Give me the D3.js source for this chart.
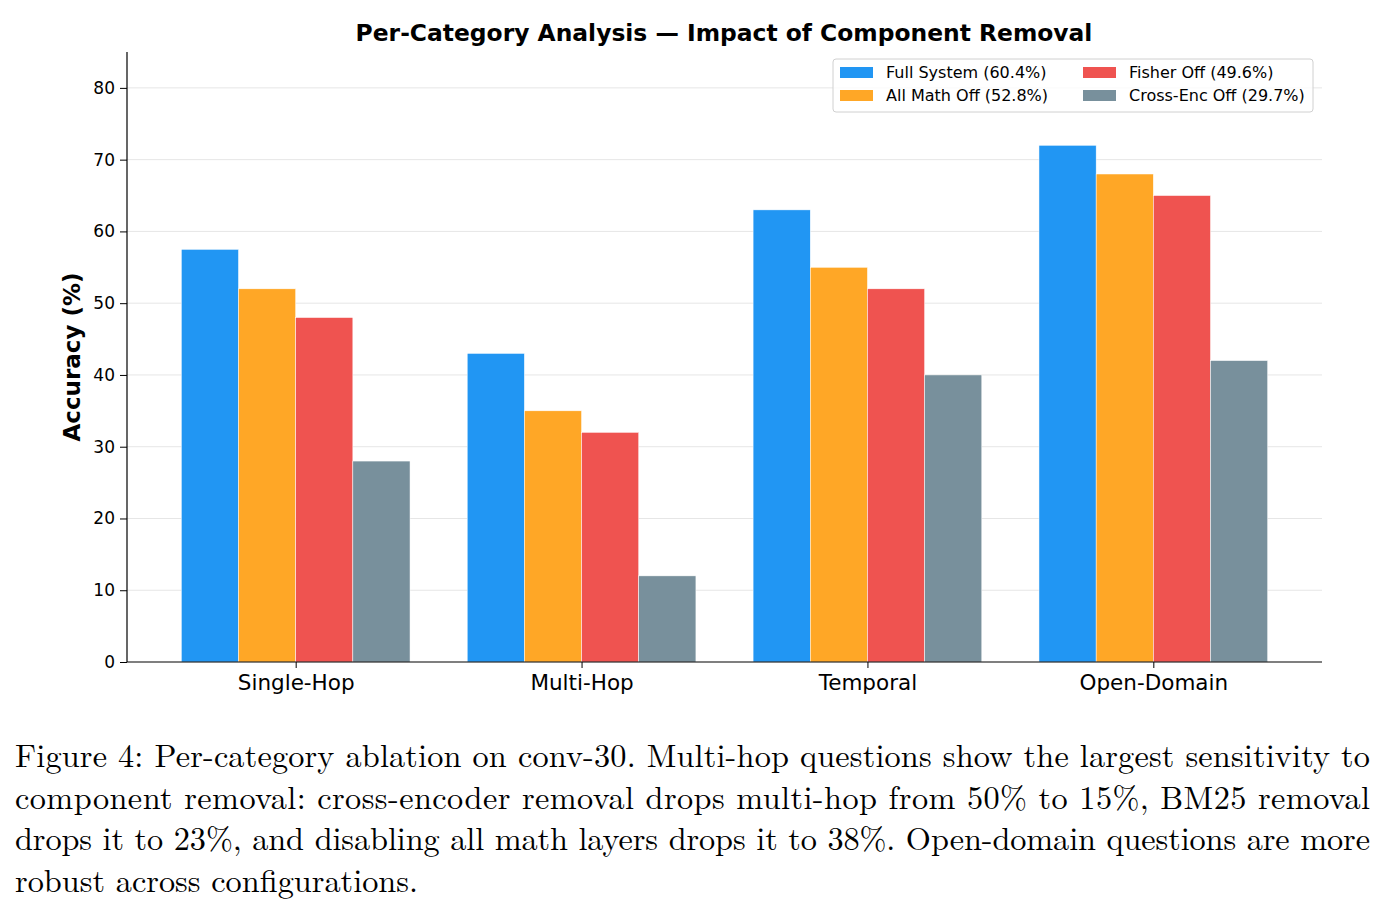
<!doctype html>
<html lang="en">
<head>
<meta charset="utf-8">
<title>Per-Category Analysis</title>
<script src="https://d3js.org/d3.v7.min.js"></script>
<style>
  body { margin: 0; background: #fff; }
  svg text { font-family: "DejaVu Sans", sans-serif; }
  .caption { font-family: "Latin Modern Roman", "CMU Serif", "DejaVu Serif", serif; font-size: 32.3px; fill: #000; }
  .grid line { stroke: #e6e6e6; stroke-width: 1; }
</style>
</head>
<body>
<svg id="chart" width="1385" height="911"></svg>
<script>
// categories and series
const categories = ["Single-Hop", "Multi-Hop", "Temporal", "Open-Domain"];
const seriesNames = ["Full System (60.4%)", "All Math Off (52.8%)", "Fisher Off (49.6%)", "Cross-Enc Off (29.7%)"];
const fullSystem = [57.5, 43, 63, 72];
const allMathOff = [52, 35, 55, 68];
const fisherOff = [48, 32, 52, 65];
const crossEncOff = [28, 12, 40, 42];
const yTicks = [0, 10, 20, 30, 40, 50, 60, 70, 80];
const colors = ["#2196F3", "#FFA726", "#EF5350", "#78909C"];

const captionLines = [
  "Figure 4: Per-category ablation on conv-30. Multi-hop questions show the largest sensitivity to",
  "component removal: cross-encoder removal drops multi-hop from 50% to 15%, BM25 removal",
  "drops it to 23%, and disabling all math layers drops it to 38%. Open-domain questions are more",
  "robust across configurations."
];

const series = [fullSystem, allMathOff, fisherOff, crossEncOff];

const svg = d3.select("#chart");
const mLeft = 127, mRight = 1322, mTop = 52, mBottom = 662;
const barW = 0.2;

const x = d3.scaleLinear().domain([-0.59, 3.59]).range([mLeft, mRight]);
const y = d3.scaleLinear().domain([0, 85]).range([mBottom, mTop]);

// grid
svg.append("g").attr("class", "grid")
  .selectAll("line").data(yTicks.filter(d => d > 0)).enter().append("line")
  .attr("x1", mLeft).attr("x2", mRight)
  .attr("y1", d => y(d)).attr("y2", d => y(d));

// bars
series.forEach((vals, s) => {
  svg.append("g").selectAll("rect").data(vals).enter().append("rect")
    .attr("x", (d, i) => x(i + (s - 1.5) * barW - barW / 2))
    .attr("width", x(barW) - x(0))
    .attr("y", d => y(d))
    .attr("height", d => y(0) - y(d))
    .attr("fill", colors[s])
    .attr("stroke", "#fff").attr("stroke-width", 0.5);
});

// axes
const yAxis = svg.append("g").attr("transform", `translate(${mLeft},0)`)
  .call(d3.axisLeft(y).tickValues(yTicks).tickSize(7).tickPadding(5));
yAxis.select(".domain").attr("d", `M0,${mBottom}V${mTop}`).attr("stroke", "#000").attr("stroke-width", 1.2);
yAxis.selectAll(".tick line").attr("stroke", "#000");
yAxis.selectAll("text").attr("font-size", 17).attr("fill", "#000");

const xAxis = svg.append("g").attr("transform", `translate(0,${mBottom})`)
  .call(d3.axisBottom(x).tickValues(d3.range(categories.length)).tickFormat(i => categories[i]).tickSize(6).tickPadding(7));
xAxis.select(".domain").attr("d", `M${mLeft},0H${mRight}`).attr("stroke", "#000").attr("stroke-width", 1.2);
xAxis.selectAll(".tick line").attr("stroke", "#000");
xAxis.selectAll("text").attr("font-size", 21.5).attr("fill", "#000");

// y label
svg.append("text")
  .attr("transform", "translate(80,357) rotate(-90)")
  .attr("text-anchor", "middle")
  .attr("font-size", 23).attr("font-weight", "bold")
  .text("Accuracy (%)");

// title
svg.append("text")
  .attr("x", 724).attr("y", 41)
  .attr("text-anchor", "middle")
  .attr("font-size", 23.4).attr("font-weight", "bold")
  .text("Per-Category Analysis \u2014 Impact of Component Removal");

// legend
const lg = svg.append("g").attr("transform", "translate(833,59)");
lg.append("rect").attr("width", 480).attr("height", 53).attr("rx", 3)
  .attr("fill", "#fff").attr("fill-opacity", 0.8).attr("stroke", "#d0d0d0");
seriesNames.forEach((name, i) => {
  const col = Math.floor(i / 2), row = i % 2;
  const gx = 7 + col * 243, gy = 8 + row * 23;
  lg.append("rect").attr("x", gx).attr("y", gy).attr("width", 33).attr("height", 11).attr("fill", colors[i]);
  lg.append("text").attr("x", gx + 46).attr("y", gy + 11).attr("font-size", 16).attr("fill", "#000").text(name);
});

// caption
captionLines.forEach((line, i) => {
  const t = svg.append("text").attr("class", "caption")
    .attr("x", 15).attr("y", 767 + i * 41.5).text(line);
  if (i < captionLines.length - 1) t.attr("textLength", 1355).attr("lengthAdjust", "spacing");
});
</script>
</body>
</html>
